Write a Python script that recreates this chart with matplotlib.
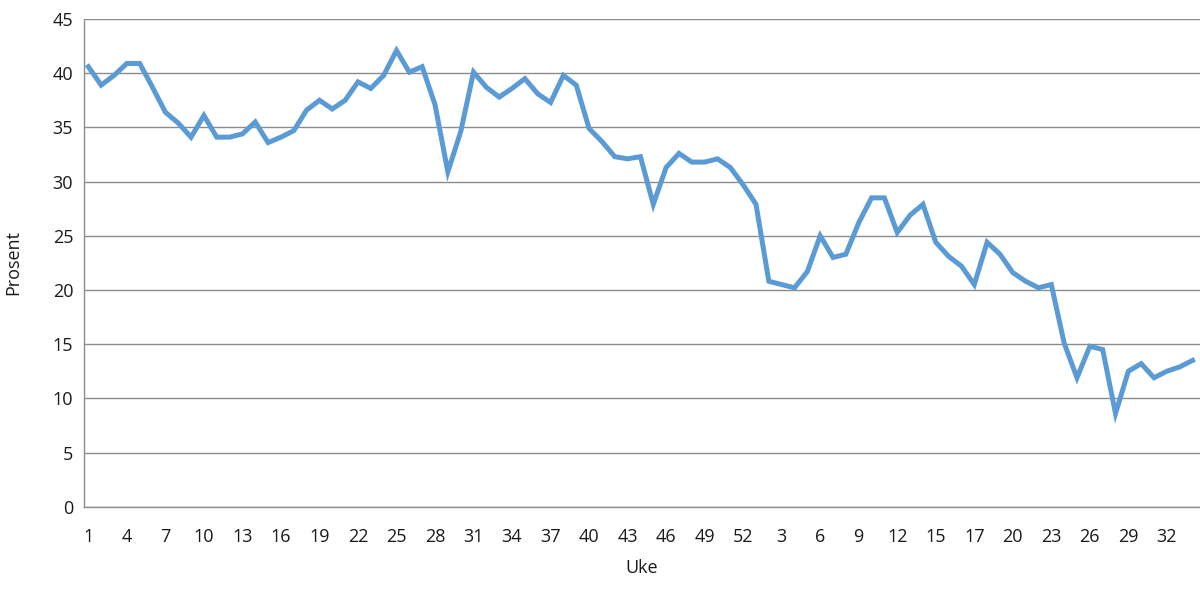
import matplotlib.pyplot as plt

# weekly share (percent), two consecutive years
prosent = [
    40.6, 38.9, 39.8, 40.9, 40.9, 38.7, 36.4, 35.4, 34.1, 36.1,
    34.1, 34.1, 34.4, 35.5, 33.6, 34.1, 34.7, 36.6, 37.5, 36.7,
    37.5, 39.2, 38.6, 39.8, 42.1, 40.1, 40.6, 37.1, 30.9, 34.6,
    40.1, 38.7, 37.8, 38.6, 39.5, 38.1, 37.3, 39.8, 38.9, 34.9,
    33.7, 32.3, 32.1, 32.3, 27.9, 31.3, 32.6, 31.8, 31.8, 32.1,
    31.3, 29.7, 27.9, 20.8, 20.5, 20.2, 21.7, 25.0, 23.0, 23.3,
    26.2, 28.5, 28.5, 25.3, 26.9, 27.9, 24.4, 23.1, 22.2, 20.5,
    24.4, 23.3, 21.6, 20.8, 20.2, 20.5, 15.1, 11.9, 14.8, 14.5,
    8.6, 12.5, 13.2, 11.9, 12.5, 12.9, 13.5,
]
uker = [*range(1, 53), *range(1, 17), *range(16, 35)]

plt.rcParams['font.family'] = ['Open Sans', 'DejaVu Sans']

fig = plt.figure(figsize=(12, 5.95), dpi=100)
ax = fig.add_axes([0.0703, 0.1484, 0.9297, 0.8196])

x = list(range(len(prosent)))
ax.plot(x, prosent, color='#5B9BD5', linewidth=3.6, solid_joinstyle='miter')

ax.set_xlim(-0.31, len(prosent) - 1 + 0.58)
ax.set_ylim(0, 45)
ax.set_yticks(range(0, 46, 5))
ticks = x[::3]
ax.set_xticks(ticks)
ax.set_xticklabels([str(uker[i]) for i in ticks])

ax.grid(axis='y', color='#8c8c8c', linewidth=1.0)
ax.set_axisbelow(True)
for s in ['top', 'right']:
    ax.spines[s].set_visible(False)
for s in ['left', 'bottom']:
    ax.spines[s].set_color('#8c8c8c')
    ax.spines[s].set_linewidth(1.0)

ax.tick_params(length=0, labelsize=13, colors='#1a1a1a')
ax.tick_params(axis='x', pad=15)
ax.tick_params(axis='y', pad=8)
ax.set_xlabel('Uke', fontsize=13, color='#1a1a1a', labelpad=10)
ax.set_ylabel('Prosent', fontsize=13, color='#1a1a1a', labelpad=22)

fig.savefig('out.png', dpi=100)
